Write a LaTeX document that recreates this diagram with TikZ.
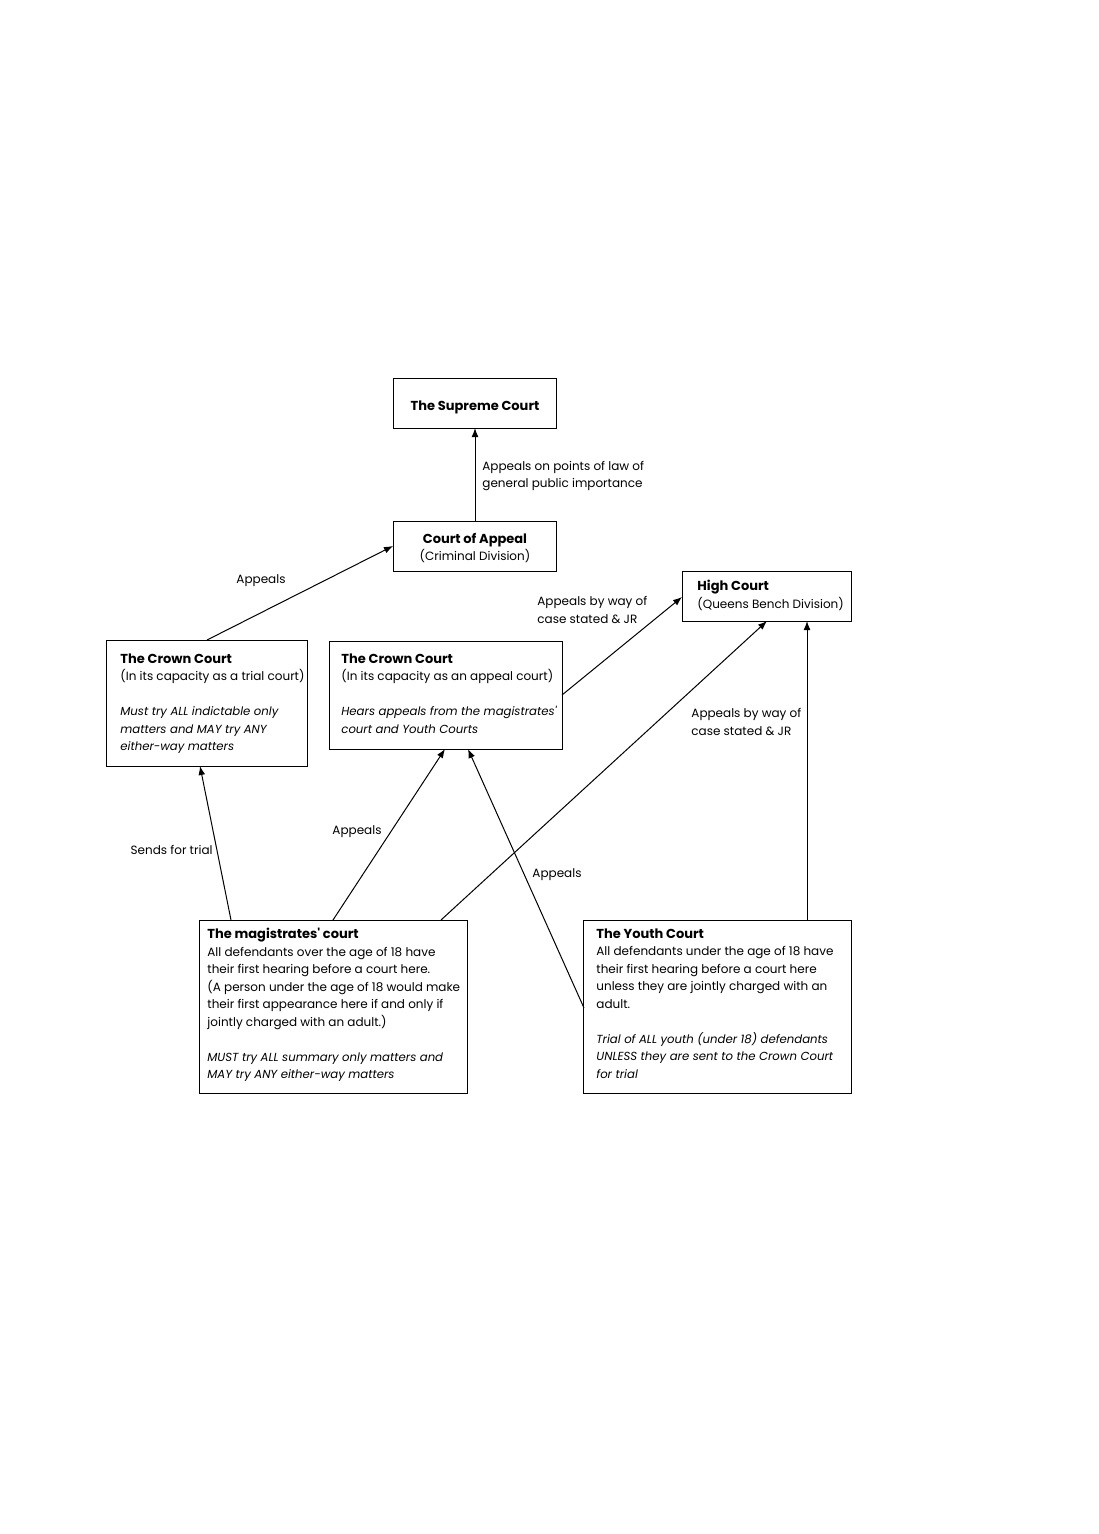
\documentclass[tikz,border=0pt]{standalone}
\usepackage{fontspec}
\setmainfont{Poppins}[Ligatures=TeXOff]
\usetikzlibrary{arrows.meta}
\newcommand\ttl[1]{{\fontsize{6.5}{8.75}\selectfont\bfseries #1}}
\newcommand\itl[1]{{\fontsize{5.85}{8.75}\selectfont\itshape #1}}
\begin{document}
\begin{tikzpicture}[x=0.5pt,y=-0.5pt,
  box/.style={draw, line width=0.65pt, inner sep=0pt, anchor=north west},
  txt/.style={inner sep=0pt, anchor=north west, align=left, font=\fontsize{6.0}{8.75}\selectfont},
  ctxt/.style={inner sep=0pt, align=center, font=\fontsize{6.0}{8.75}\selectfont},
  lbl/.style={inner sep=0pt, align=left, font=\fontsize{6.0}{8.75}\selectfont},
  arr/.style={draw, line width=0.5pt, -{Latex[length=4.5pt,width=3.4pt]}}]
\useasboundingbox (0,0) rectangle (1098,1534);
\fill[white] (0,0) rectangle (1098,1534);
% boxes
\node[box, minimum width=81.5pt, minimum height=25pt] (sup) at (393,378) {};
\node[box, minimum width=81.5pt, minimum height=25pt] (coa) at (393,521) {};
\node[box, minimum width=84.5pt, minimum height=25pt] (high) at (682,571) {};
\node[box, minimum width=100.5pt, minimum height=63pt] (ctrial) at (106,640) {};
\node[box, minimum width=116.5pt, minimum height=54pt] (capp) at (329,641) {};
\node[box, minimum width=134pt, minimum height=86.5pt] (mag) at (199,920) {};
\node[box, minimum width=134pt, minimum height=86.5pt] (youth) at (583,920) {};
% texts
\node[ctxt] (suptxt) at (475,407) {\ttl{The Supreme Court}};
\node[ctxt] (coatxt) at (475,548) {\ttl{Court of Appeal}\\(Criminal Division)};
\node[txt] (hightxt) at (697,580) {\ttl{High Court}\\(Queens Bench Division)};
\node[txt] (ctrialtxt) at (120,653) {\ttl{The Crown Court}\\(In its capacity as a trial court)\\[8.75pt]
  \itl{Must try ALL indictable only}\\\itl{matters and MAY try ANY}\\\itl{either-way matters}};
\node[txt] (capptxt) at (341,653) {\ttl{The Crown Court}\\(In its capacity as an appeal court)\\[8.75pt]
  \itl{Hears appeals from the magistrates'}\\\itl{court and Youth Courts}};
\node[txt] (magtxt) at (207,928) {\ttl{The magistrates' court}\\All defendants over the age of 18 have\\their first hearing before a court here.\\(A person under the age of 18 would make\\their first appearance here if and only if\\jointly charged with an adult.)\\[8.75pt]
  \itl{MUST try ALL summary only matters and}\\\itl{MAY try ANY either-way matters}};
\node[txt] (youthtxt) at (596,928) {\ttl{The Youth Court}\\All defendants under the age of 18 have\\their first hearing before a court here\\unless they are jointly charged with an\\adult.\\[8.75pt]
  \itl{Trial of ALL youth (under 18) defendants}\\\itl{UNLESS they are sent to the Crown Court}\\\itl{for trial}};
% connection points
\coordinate (c1) at (475,521); \coordinate (c1e) at (475,428);
\coordinate (c2) at (207,640); \coordinate (c2e) at (393,546);
\coordinate (c3) at (562,695); \coordinate (c3e) at (682,597);
\coordinate (c4) at (441,920); \coordinate (c4e) at (767,621);
\coordinate (c5) at (807,920); \coordinate (c5e) at (807,621);
\coordinate (c6) at (231,920); \coordinate (c6e) at (200,766);
\coordinate (c7) at (333,920); \coordinate (c7e) at (445,749);
\coordinate (c8) at (584,1008); \coordinate (c8e) at (468,749);
\draw[arr] (c1) -- (c1e);
\draw[arr] (c2) -- (c2e);
\draw[arr] (c3) -- (c3e);
\draw[arr] (c4) -- (c4e);
\draw[arr] (c5) -- (c5e);
\draw[arr] (c6) -- (c6e);
\draw[arr] (c7) -- (c7e);
\draw[arr] (c8) -- (c8e);
% labels
\node[lbl, anchor=west] (l1) at (482,476) {Appeals on points of law of\\general public importance};
\node[lbl] (l2) at (261,581) {Appeals};
\node[lbl, anchor=west] (l3) at (537,610) {Appeals by way of\\case stated \& JR};
\node[lbl, anchor=west] (l4) at (691,722) {Appeals by way of\\case stated \& JR};
\node[lbl, anchor=east] (l5) at (213,850) {Sends for trial};
\node[lbl] (l6) at (357,832) {Appeals};
\node[lbl] (l7) at (557,875) {Appeals};
\end{tikzpicture}
\end{document}
